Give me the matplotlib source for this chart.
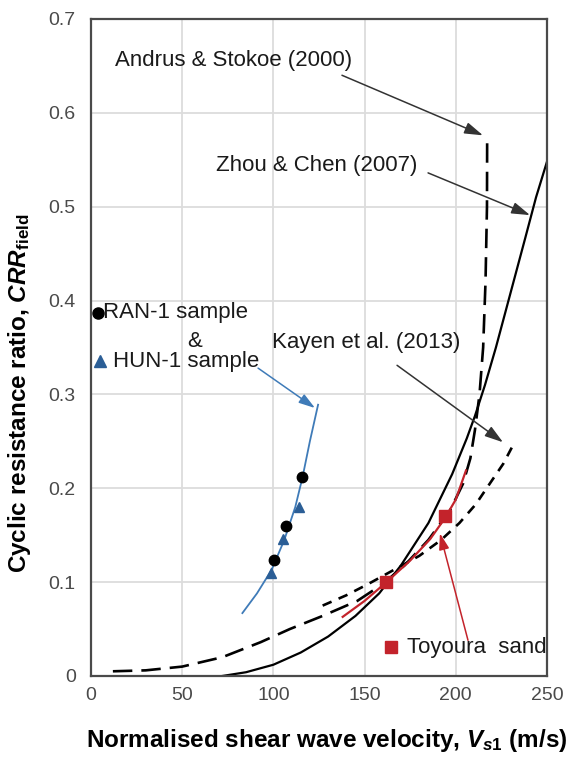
import matplotlib
matplotlib.use("Agg")

import matplotlib.pyplot as plt

# =========================================================
# Data
# =========================================================
# Andrus & Stokoe (2000) - long dashed
andrus_x = [12, 30, 50, 72, 93, 109, 127, 146, 160, 172, 185, 197, 204, 208,
            210.5, 213, 215, 216.3, 217.1, 217.2]
andrus_y = [0.005, 0.006, 0.010, 0.020, 0.036, 0.050, 0.064, 0.080, 0.098, 0.118,
            0.145, 0.177, 0.205, 0.232, 0.262, 0.300, 0.350, 0.420, 0.500, 0.575]

# Kayen et al. (2013) - short dashed
kayen_x = [127, 140, 152, 166, 180, 192, 202, 211, 219, 226, 232.5]
kayen_y = [0.075, 0.086, 0.098, 0.113, 0.128, 0.145, 0.163, 0.183, 0.206, 0.226, 0.250]

# Zhou & Chen (2007) - solid
zhou_x = [72, 85, 100, 115, 130, 145, 158, 170, 185, 198, 206, 210.5, 216, 222,
          230, 238, 244, 250]
zhou_y = [0.0, 0.004, 0.012, 0.025, 0.042, 0.064, 0.088, 0.118, 0.163, 0.215,
          0.253, 0.277, 0.310, 0.350, 0.408, 0.466, 0.510, 0.548]

# RAN-1 (circles), HUN-1 (triangles) and their fitted line
ran_x = [100.3, 107, 115.7]
ran_y = [0.124, 0.160, 0.212]
hun_x = [98.5, 105, 114]
hun_y = [0.110, 0.146, 0.180]
hun_fit_x = [83, 91, 99, 106, 112, 116, 120, 124.5]
hun_fit_y = [0.067, 0.088, 0.113, 0.145, 0.180, 0.212, 0.250, 0.289]

# Toyoura sand
toy_x = [162, 194]
toy_y = [0.100, 0.170]
toy_fit_x = [138, 150, 162, 175, 186, 194, 200, 205.6]
toy_fit_y = [0.063, 0.080, 0.100, 0.123, 0.146, 0.168, 0.188, 0.219]

x_ticks = [0, 50, 100, 150, 200, 250]
y_ticks = [0, 0.1, 0.2, 0.3, 0.4, 0.5, 0.6, 0.7]
y_tick_labels = ["0", "0.1", "0.2", "0.3", "0.4", "0.5", "0.6", "0.7"]

# legend-like keys drawn inside the axes (data coords)
KEY_RAN = (3.6, 0.387)
KEY_HUN = (4.9, 0.336)
KEY_TOY = (164.5, 0.031)

# =========================================================
# Style
# =========================================================
FONT = "Liberation Sans"
plt.rcParams["font.family"] = [FONT, "DejaVu Sans"]
plt.rcParams["mathtext.fontset"] = "custom"
plt.rcParams["mathtext.rm"] = FONT
plt.rcParams["mathtext.it"] = FONT + ":italic"
plt.rcParams["mathtext.bf"] = FONT + ":bold"
plt.rcParams["mathtext.bfit"] = FONT + ":bold:italic"
plt.rcParams["lines.scale_dashes"] = False

BLUE = "#3f7bb8"
BLUE_DARK = "#2b5e96"
RED = "#c3232b"
TXT = "#1a1a1a"
ANN_SIZE = 16
LABEL_SIZE = 17.5

fig = plt.figure(figsize=(5.73, 7.58), dpi=100)
ax = fig.add_axes([0.1588, 0.1082, 0.7958, 0.8668])

ax.set_xlim(0, 250)
ax.set_ylim(0, 0.7)
ax.set_xticks(x_ticks)
ax.set_yticks(y_ticks)
ax.set_yticklabels(y_tick_labels)
ax.tick_params(length=0, labelsize=14, labelcolor="#4a4a4a")
ax.tick_params(axis="y", pad=11)
ax.tick_params(axis="x", pad=8)
ax.grid(True, color="#dcdcdc", lw=1.3)
ax.set_axisbelow(True)
for s in ax.spines.values():
    s.set_color("#4a4a4a")
    s.set_linewidth(1.6)

# curves
ax.plot(andrus_x, andrus_y, color="black", lw=1.9, dashes=(14, 6.5))
ax.plot(kayen_x, kayen_y, color="black", lw=1.9, dashes=(7, 5.5))
ax.plot(zhou_x, zhou_y, color="black", lw=1.6)

ax.plot(hun_fit_x, hun_fit_y, color=BLUE, lw=1.3)
ax.plot(ran_x, ran_y, "o", color="black", ms=7.5)
ax.plot(hun_x, hun_y, "^", color=BLUE_DARK, ms=6.5)

ax.plot(toy_fit_x, toy_fit_y, color=RED, lw=1.6)
ax.plot(toy_x, toy_y, "s", color=RED, ms=8)

# annotations
HEAD = "-|>,head_length=0.7,head_width=0.22"
arrow_k = dict(arrowstyle=HEAD, color="#333333", lw=1.1, mutation_scale=16,
               shrinkA=0, shrinkB=0)
ax.text(13.2, 0.656, "Andrus & Stokoe (2000)", fontsize=ANN_SIZE, color=TXT,
        ha="left", va="center")
ax.annotate("", xy=(214.9, 0.576), xytext=(137.6, 0.640), arrowprops=arrow_k)

ax.text(178.7, 0.544, "Zhou & Chen (2007)", fontsize=ANN_SIZE, color=TXT,
        ha="right", va="center")
ax.annotate("", xy=(240.7, 0.491), xytext=(184.8, 0.536), arrowprops=arrow_k)

ax.text(202.3, 0.355, "Kayen et al. (2013)", fontsize=ANN_SIZE, color=TXT,
        ha="right", va="center")
ax.annotate("", xy=(225.9, 0.249), xytext=(167.8, 0.331), arrowprops=arrow_k)

# sample labels
ax.plot(*KEY_RAN, "o", color="black", ms=8, clip_on=False)
ax.text(6.6, 0.387, "RAN-1 sample", fontsize=ANN_SIZE, color=TXT,
        ha="left", va="center")
ax.text(57, 0.356, "&", fontsize=ANN_SIZE, color=TXT, ha="center", va="center")
ax.plot(*KEY_HUN, "^", color=BLUE_DARK, ms=9, clip_on=False)
ax.text(12.0, 0.335, "HUN-1 sample", fontsize=ANN_SIZE, color=TXT,
        ha="left", va="center")
ax.annotate("", xy=(122.8, 0.2855), xytext=(91.6, 0.328),
            arrowprops=dict(arrowstyle=HEAD, color=BLUE, lw=1.1,
                            mutation_scale=14, shrinkA=0, shrinkB=0))

# Toyoura label
ax.plot(*KEY_TOY, "s", color=RED, ms=8.5)
ax.text(173.2, 0.030, "Toyoura  sand", fontsize=ANN_SIZE, color=TXT,
        ha="left", va="center")
ax.annotate("", xy=(191.3, 0.152), xytext=(206.7, 0.038),
            arrowprops=dict(arrowstyle=HEAD, color=RED, lw=1.1,
                            mutation_scale=14, shrinkA=0, shrinkB=0))

# axis labels
ax.set_xlabel(r"Normalised shear wave velocity, $\mathbfit{V}_{\mathbfit{s}\mathbf{1}}$ (m/s)",
              fontsize=LABEL_SIZE, fontweight="bold", color="black")
ax.xaxis.set_label_coords(0.5175, -0.078)
ax.set_ylabel(r"Cyclic resistance ratio, $\mathbfit{CRR}_{\mathbf{field}}$",
              fontsize=LABEL_SIZE, fontweight="bold", color="black")
ax.yaxis.set_label_coords(-0.128, 0.43)

fig.savefig("out.png", dpi=100)
